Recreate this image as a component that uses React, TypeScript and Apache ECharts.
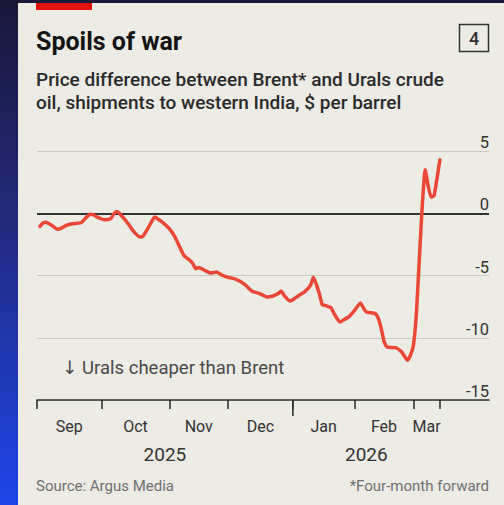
import { useEffect, useRef } from 'react';
import * as echarts from 'echarts';

// ---- calendar (trading days on the x axis) ----
const CAL_START = '2025-09-01';
const CAL_END = '2026-03-13';
const HOLIDAYS = ['2025-12-25', '2026-01-01'];
const MONTHS = ['Jan', 'Feb', 'Mar', 'Apr', 'May', 'Jun', 'Jul', 'Aug', 'Sep', 'Oct', 'Nov', 'Dec'];
const X_AXIS_MAX_DAYS = 153.7;

// ---- series: Brent minus Urals, $ per barrel ----
const dates = [
  '2025-09-02', '2025-09-03', '2025-09-04', '2025-09-08', '2025-09-10', '2025-09-11', '2025-09-15',
  '2025-09-17', '2025-09-22', '2025-09-23', '2025-09-25', '2025-09-26', '2025-09-30', '2025-10-02',
  '2025-10-06', '2025-10-07', '2025-10-08', '2025-10-09', '2025-10-14', '2025-10-16', '2025-10-20',
  '2025-10-21', '2025-10-23', '2025-10-27', '2025-10-28', '2025-10-30', '2025-11-03', '2025-11-05',
  '2025-11-07', '2025-11-10', '2025-11-12', '2025-11-13', '2025-11-14', '2025-11-17', '2025-11-19',
  '2025-11-21', '2025-11-25', '2025-11-27', '2025-12-01', '2025-12-03', '2025-12-05', '2025-12-09',
  '2025-12-11', '2025-12-15', '2025-12-17', '2025-12-18', '2025-12-22', '2025-12-24', '2025-12-26',
  '2025-12-29', '2025-12-31', '2026-01-02', '2026-01-06', '2026-01-08', '2026-01-12', '2026-01-13',
  '2026-01-15', '2026-01-16', '2026-01-19', '2026-01-21', '2026-01-22', '2026-01-26', '2026-01-27',
  '2026-01-29', '2026-02-02', '2026-02-04', '2026-02-05', '2026-02-06', '2026-02-11', '2026-02-12',
  '2026-02-13', '2026-02-16', '2026-02-17', '2026-02-20', '2026-02-24', '2026-02-26', '2026-02-27',
  '2026-03-02', '2026-03-03', '2026-03-04', '2026-03-05', '2026-03-06', '2026-03-09', '2026-03-10',
  '2026-03-11', '2026-03-13',
];
const values = [
  -1.05, -0.8, -0.73, -0.97, -1.29, -1.24, -0.97,
  -0.84, -0.76, -0.52, -0.09, -0.11, -0.36, -0.52,
  -0.44, -0.09, 0.15, 0.0, -0.84, -1.5, -1.9,
  -1.85, -1.1, -0.3, -0.44, -0.79, -1.24, -1.95,
  -2.95, -3.4, -3.8, -4.05, -4.45, -4.35, -4.58,
  -4.8, -4.72, -4.98, -5.15, -5.25, -5.47, -5.8,
  -6.24, -6.4, -6.6, -6.72, -6.67, -6.45, -6.24,
  -6.6, -7.05, -6.95, -6.6, -6.32, -5.8, -5.15,
  -6.45, -7.35, -7.4, -7.6, -8.06, -8.73, -8.6,
  -8.33, -7.8, -7.2, -7.6, -7.93, -8.06, -8.4,
  -9.2, -10.3, -10.74, -10.8, -11.15, -11.8, -11.4,
  -10.6, -8.1, -3.7, 0.6, 3.5, 2.2, 1.3,
  1.4, 4.3,
];

const Y_MIN = -15;
const Y_MAX = 5;
const Y_STEP = 5;
const Y_BASELINE = 0;

const TITLE = 'Spoils of war';
const SUBTITLE = 'Price difference between Brent* and Urals crude\noil, shipments to western India, $ per barrel';
const CHART_NUMBER = '4';
const ANNOTATION = '\u2193 Urals cheaper than Brent';
const SOURCE = 'Source: Argus Media';
const FOOTNOTE = '*Four-month forward';

const FONT = 'Roboto, "DejaVu Sans", sans-serif';
const RED = '#ea4737';
const INK = '#333333';

// plot area inside the panel canvas (panel is 486x502, offset 18,3 on the page)
const PLOT_TOP = 148;
const PLOT_BOTTOM = 397;

function buildTradingDays(start: string, end: string, holidays: string[]): string[] {
  const out: string[] = [];
  const [sy, sm, sd] = start.split('-').map(Number);
  const [ey, em, ed] = end.split('-').map(Number);
  let t = Date.UTC(sy, sm - 1, sd);
  const endT = Date.UTC(ey, em - 1, ed);
  while (t <= endT) {
    const d = new Date(t);
    const wd = d.getUTCDay();
    const iso = d.toISOString().slice(0, 10);
    if (wd !== 0 && wd !== 6 && holidays.indexOf(iso) < 0) out.push(iso);
    t += 86400000;
  }
  return out;
}

export default function App() {
  const ref = useRef<HTMLDivElement>(null);

  useEffect(() => {
    document.body.style.margin = '0';
    if (!ref.current) return;
    const chart = echarts.init(ref.current, undefined, { renderer: 'svg' });

    const days = buildTradingDays(CAL_START, CAL_END, HOLIDAYS);
    const dayIndex = (d: string) => days.indexOf(d);

    const monthTicks: number[] = [];
    const yearTicks: number[] = [];
    days.forEach((d, i) => {
      if (i === 0 || d.slice(0, 7) !== days[i - 1].slice(0, 7)) monthTicks.push(i);
      if (i > 0 && d.slice(0, 4) !== days[i - 1].slice(0, 4)) yearTicks.push(i);
    });
    const lastIdx = days.length - 1;
    monthTicks.push(lastIdx);

    const monthMids: number[] = [];
    const monthNames: string[] = [];
    for (let i = 0; i < monthTicks.length - 1; i++) {
      monthMids.push((monthTicks[i] + monthTicks[i + 1]) / 2);
      monthNames.push(MONTHS[Number(days[monthTicks[i]].slice(5, 7)) - 1]);
    }
    const yearBounds = [0, ...yearTicks, lastIdx];
    const yearMids: number[] = [];
    const yearNames: string[] = [];
    for (let i = 0; i < yearBounds.length - 1; i++) {
      yearMids.push((yearBounds[i] + yearBounds[i + 1]) / 2);
      yearNames.push(days[yearBounds[i]].slice(0, 4));
    }
    const nearestLabel = (v: number, mids: number[], names: string[]) => {
      let best = 0;
      mids.forEach((m, i) => {
        if (Math.abs(m - v) < Math.abs(mids[best] - v)) best = i;
      });
      return names[best];
    };

    const seriesData = dates.map((d, i) => [dayIndex(d), values[i]]);

    const baseGraphic: any[] = [
      { type: 'rect', shape: { x: 18, y: 0, width: 56, height: 7 }, style: { fill: '#e3120b' } },
      {
        type: 'text',
        x: 18,
        y: 38,
        style: { text: TITLE, fontSize: 25, fontWeight: 'bold', fontFamily: FONT, fill: '#141414', verticalAlign: 'middle', align: 'left' },
      },
      {
        type: 'rect',
        shape: { x: 441.5, y: 21.5, width: 29, height: 27 },
        style: { fill: 'none', stroke: INK, lineWidth: 1.5 },
      },
      {
        type: 'text',
        x: 456,
        y: 35.5,
        style: { text: CHART_NUMBER, fontSize: 18, fontWeight: 500, fontFamily: FONT, fill: INK, verticalAlign: 'middle', align: 'center' },
      },
      {
        type: 'text',
        x: 18,
        y: 65,
        style: { text: SUBTITLE, fontSize: 19, fontWeight: 500, lineHeight: 23, fontFamily: FONT, fill: '#2a2a2a', verticalAlign: 'top', align: 'left' },
      },
      {
        type: 'text',
        x: 44,
        y: 365,
        style: { text: ANNOTATION, fontSize: 18.5, fontFamily: FONT, fill: '#4a4a4a', verticalAlign: 'middle', align: 'left' },
      },
      {
        type: 'text',
        x: 18,
        y: 483,
        style: { text: SOURCE, fontSize: 15, fontFamily: FONT, fill: '#707070', verticalAlign: 'middle', align: 'left' },
      },
      {
        type: 'text',
        x: 471,
        y: 483,
        style: { text: FOOTNOTE, fontSize: 15, fontFamily: FONT, fill: '#707070', verticalAlign: 'middle', align: 'right' },
      },
    ];

    let gridTop = PLOT_TOP;
    let gridBottom = 502 - PLOT_BOTTOM;

    const option: any = {
      animation: false,
      textStyle: { fontFamily: FONT },
      grid: { left: 19, right: 15, top: gridTop, bottom: gridBottom, outerBoundsMode: 'none' },
      xAxis: {
        type: 'value',
        min: 0,
        max: X_AXIS_MAX_DAYS,
        axisLine: { show: true, onZero: false, lineStyle: { color: INK, width: 1.6 } },
        axisTick: { show: true, customValues: monthTicks, length: 9, lineStyle: { color: INK, width: 1.6 } },
        axisLabel: {
          show: true,
          customValues: monthMids,
          formatter: (v: number) => nearestLabel(v, monthMids, monthNames),
          margin: 18,
          fontSize: 16,
          color: INK,
        },
        splitLine: { show: false },
      },
      yAxis: {
        type: 'value',
        min: Y_MIN,
        max: Y_MAX,
        interval: Y_STEP,
        position: 'right',
        axisLine: { show: false },
        axisTick: { show: false },
        axisLabel: {
          inside: true,
          margin: 0,
          verticalAlign: 'bottom',
          fontSize: 16.5,
          color: INK,
        },
        splitLine: { show: true, lineStyle: { color: '#c9c9c2', width: 1 } },
      },
      series: [
        {
          type: 'line',
          data: seriesData,
          showSymbol: false,
          smooth: 0.15,
          lineStyle: { color: RED, width: 3.5, cap: 'round', join: 'round' },
          z: 5,
          markLine: {
            silent: true,
            symbol: 'none',
            z: 1,
            label: { show: false },
            lineStyle: { color: INK, width: 1.8, type: 'solid' },
            data: [{ yAxis: Y_BASELINE }],
          },
        },
      ],
      graphic: baseGraphic,
    };

    chart.setOption(option);

    // keep the plot area where intended, whatever the layout engine adjusted
    for (let k = 0; k < 3; k++) {
      const yTop = chart.convertToPixel({ yAxisIndex: 0 }, Y_MAX) as number;
      const yBot = chart.convertToPixel({ yAxisIndex: 0 }, Y_MIN) as number;
      const dTop = PLOT_TOP - yTop;
      const dBot = PLOT_BOTTOM - yBot;
      if (Math.abs(dTop) < 0.5 && Math.abs(dBot) < 0.5) break;
      gridTop += dTop;
      gridBottom -= dBot;
      chart.setOption({ grid: { top: gridTop, bottom: gridBottom } });
    }

    // Year boundary ticks and year labels, placed through the axis scales
    const axisY = chart.convertToPixel({ yAxisIndex: 0 }, Y_MIN) as number;
    const yearGraphic: any[] = [];
    yearTicks.forEach((t) => {
      const px = chart.convertToPixel({ xAxisIndex: 0 }, t) as number;
      yearGraphic.push({
        type: 'line',
        shape: { x1: px, y1: axisY, x2: px, y2: axisY + 16 },
        style: { stroke: INK, lineWidth: 1.6 },
      });
    });
    yearMids.forEach((m, i) => {
      const px = chart.convertToPixel({ xAxisIndex: 0 }, m) as number;
      yearGraphic.push({
        type: 'text',
        x: px,
        y: axisY + 54,
        style: { text: yearNames[i], fontSize: 19, fontFamily: FONT, fill: INK, verticalAlign: 'middle', align: 'center' },
      });
    });
    chart.setOption({ graphic: [...baseGraphic, ...yearGraphic] });

    return () => chart.dispose();
  }, []);

  return (
    <div
      style={{
        width: 504,
        height: 505,
        boxSizing: 'border-box',
        padding: '3px 0 0 18px',
        background: 'linear-gradient(180deg, #1a1838 0%, #222a80 45%, #1e45ea 100%)',
      }}
    >
      <div ref={ref} style={{ width: 486, height: 502, background: '#ecebe4' }} />
    </div>
  );
}
